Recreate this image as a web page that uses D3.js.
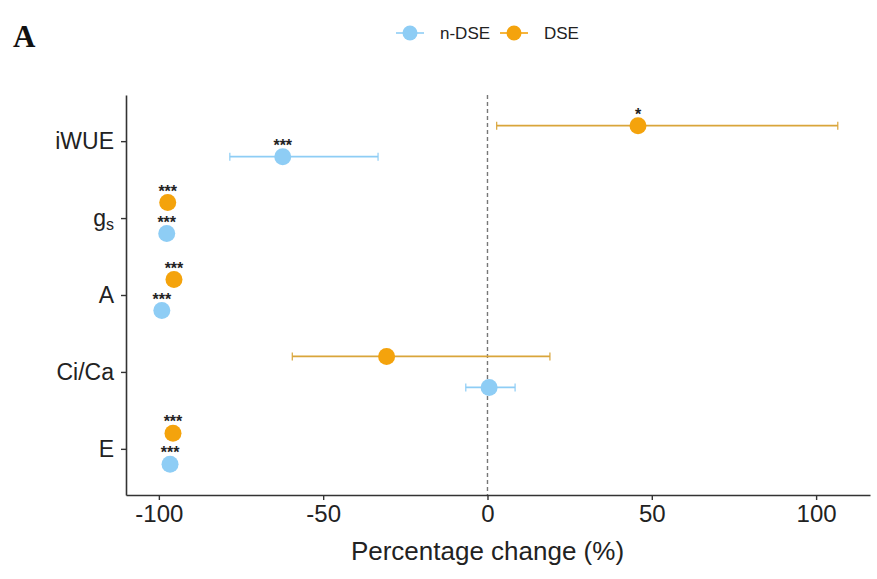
<!DOCTYPE html>
<html>
<head>
<meta charset="utf-8">
<script src="https://cdn.jsdelivr.net/npm/d3@7/dist/d3.min.js"></script>
<style>
  body { margin: 0; background: #fff; }
  svg text { font-family: Arial, "Liberation Sans", sans-serif; }
</style>
</head>
<body>
<svg id="chart" width="877" height="579"></svg>
<script>
// Traits, top to bottom
const traits = ["iWUE", "gs", "A", "Ci/Ca", "E"];
const groups = ["n-DSE", "DSE"];

// Mean percentage change and error-bar limits per trait
const nDseMean  = [-62.3, -97.6, -99.1, 0.5, -96.6];
const nDseLow   = [-78.4, -97.6, -99.1, -6.6, -96.6];
const nDseHigh  = [-33.3, -97.6, -99.1, 8.4, -96.6];
const nDseSig   = ["***", "***", "***", "", "***"];

const dseMean   = [45.8, -97.3, -95.4, -30.7, -95.7];
const dseLow    = [2.8, -97.3, -95.4, -59.4, -95.7];
const dseHigh   = [106.6, -97.3, -95.4, 19.0, -95.7];
const dseSig    = ["*", "***", "***", "", "***"];

const xTicks = [-100, -50, 0, 50, 100];

const colors = { "n-DSE": "#8ecdf5", "DSE": "#f4a30c" };
const barColors = { "n-DSE": "#8ecdf5", "DSE": "#d9a53a" };

const rows = [];
traits.forEach((t, i) => {
  rows.push({ trait: t, group: "n-DSE", mean: nDseMean[i], lo: nDseLow[i], hi: nDseHigh[i], sig: nDseSig[i] });
  rows.push({ trait: t, group: "DSE", mean: dseMean[i], lo: dseLow[i], hi: dseHigh[i], sig: dseSig[i] });
});

const svg = d3.select("#chart");
const plotLeft = 126, plotRight = 870, plotTop = 95, plotBottom = 495;

const x = d3.scaleLinear().domain([-110, 116.4]).range([plotLeft, plotRight]);
const y = d3.scalePoint().domain(traits).range([plotTop, plotBottom]).padding(0.6);
const dodge = d3.scalePoint().domain(["DSE", "n-DSE"]).range([-15.5, 15.5]);

// Zero reference line
svg.append("line")
  .attr("x1", x(0)).attr("x2", x(0))
  .attr("y1", plotTop).attr("y2", plotBottom)
  .attr("stroke", "#777").attr("stroke-width", 1.4)
  .attr("stroke-dasharray", "4,3");

// Error bars
const eb = svg.append("g");
rows.filter(d => d.hi > d.lo).forEach(d => {
  const cy = y(d.trait) + dodge(d.group);
  const c = barColors[d.group];
  eb.append("line").attr("x1", x(d.lo)).attr("x2", x(d.hi)).attr("y1", cy).attr("y2", cy)
    .attr("stroke", c).attr("stroke-width", 1.6);
  [d.lo, d.hi].forEach(v => {
    eb.append("line").attr("x1", x(v)).attr("x2", x(v)).attr("y1", cy - 4).attr("y2", cy + 4)
      .attr("stroke", c).attr("stroke-width", 1.2);
  });
});

// Points
svg.append("g").selectAll("circle").data(rows).join("circle")
  .attr("cx", d => x(d.mean))
  .attr("cy", d => y(d.trait) + dodge(d.group))
  .attr("r", 8.5)
  .attr("fill", d => colors[d.group]);

// Significance stars
svg.append("g").selectAll("text").data(rows.filter(d => d.sig)).join("text")
  .attr("x", d => x(d.mean))
  .attr("y", d => y(d.trait) + dodge(d.group) - 6)
  .attr("text-anchor", "middle")
  .attr("font-size", 16).attr("font-weight", "bold").attr("fill", "#222")
  .text(d => d.sig);

// X axis
const xAxis = svg.append("g").attr("transform", `translate(0,${plotBottom})`)
  .call(d3.axisBottom(x).tickValues(xTicks).tickSize(5).tickSizeOuter(0).tickFormat(d3.format("d")));
xAxis.select(".domain").attr("stroke", "#333").attr("stroke-width", 1.6);
xAxis.selectAll(".tick line").attr("stroke", "#333").attr("stroke-width", 1.4);
xAxis.selectAll(".tick text").attr("font-size", 24).attr("fill", "#222").attr("dy", "0.8em")
  .text(d => d < 0 ? "-" + Math.abs(d) : d);

// Y axis
const yAxis = svg.append("g").attr("transform", `translate(${plotLeft},0)`)
  .call(d3.axisLeft(y).tickSize(5).tickSizeOuter(0));
yAxis.select(".domain").attr("stroke", "#333").attr("stroke-width", 1.6);
yAxis.selectAll(".tick line").attr("stroke", "#333").attr("stroke-width", 1.4);
yAxis.selectAll(".tick text").attr("font-size", 23).attr("fill", "#222").attr("x", -12)
  .each(function (d) {
    if (d === "gs") {
      const t = d3.select(this).text("");
      t.append("tspan").text("g");
      t.append("tspan").attr("font-size", 16).attr("dy", "0.25em").text("s");
    }
  });

// Axis title
svg.append("text").attr("x", x(0)).attr("y", 560).attr("text-anchor", "middle")
  .attr("font-size", 26).attr("fill", "#222").text("Percentage change (%)");

// Panel letter
svg.append("text").attr("x", 13).attr("y", 47)
  .style("font-family", "'Liberation Serif', 'Times New Roman', serif")
  .attr("font-size", 31).attr("font-weight", "bold").attr("fill", "#111").text("A");

// Legend
const legend = svg.append("g");
const legendPos = { "n-DSE": 410, "DSE": 514 };
groups.forEach(g => {
  const lx = legendPos[g];
  legend.append("line").attr("x1", lx - 14).attr("x2", lx + 14).attr("y1", 33).attr("y2", 33)
    .attr("stroke", colors[g]).attr("stroke-width", 1.6);
  legend.append("circle").attr("cx", lx).attr("cy", 33).attr("r", 7.5).attr("fill", colors[g]);
  legend.append("text").attr("x", lx + 30).attr("y", 33).attr("dy", "0.35em")
    .attr("font-size", 17).attr("fill", "#222").text(g);
});
</script>
</body>
</html>
